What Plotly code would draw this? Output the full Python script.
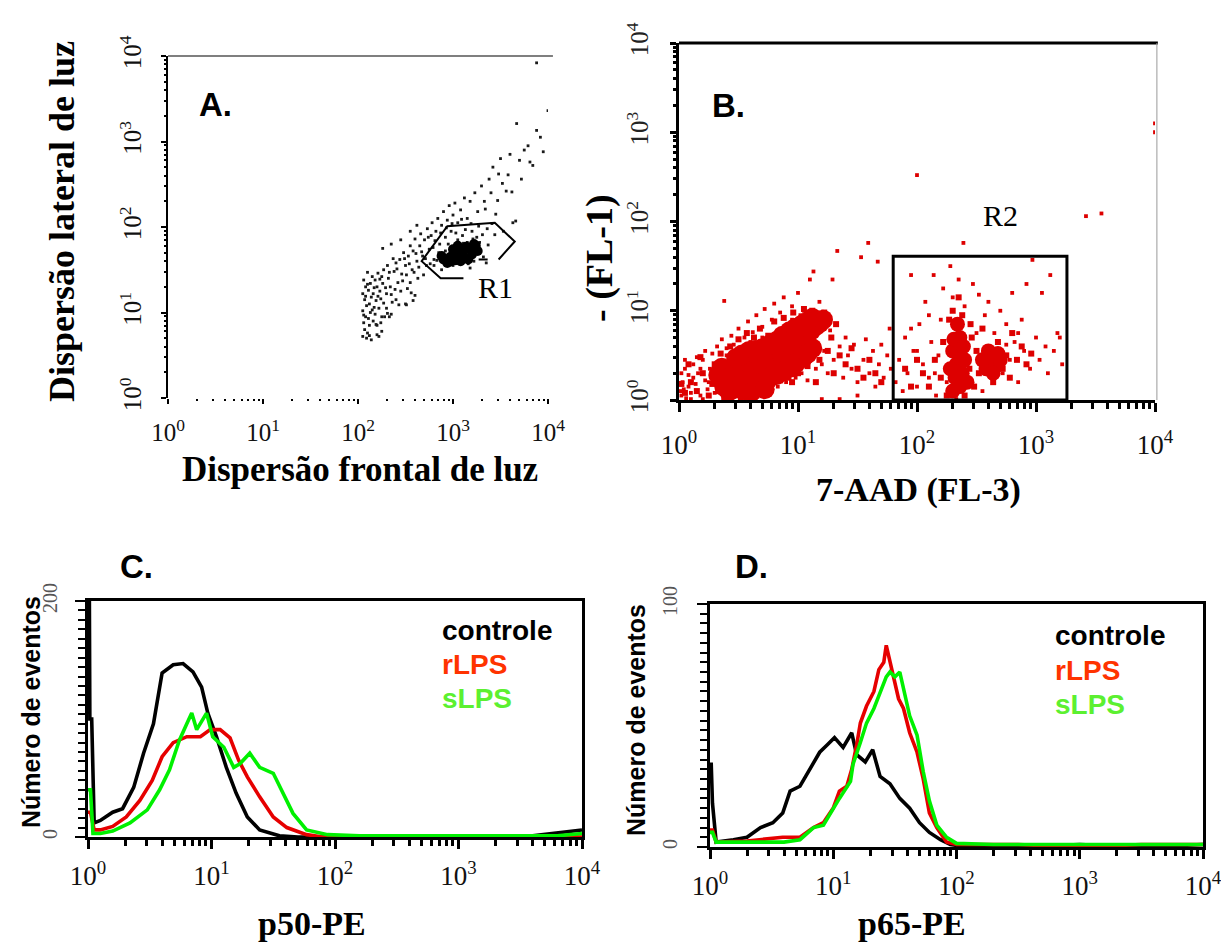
import plotly.graph_objects as go

W, H = 1221, 942

# ---------------- data (log10 units) ----------------
DECADES = [1, 10, 100, 1000, 10000]
DECADE_TEXT = ["10<sup>0</sup>", "10<sup>1</sup>", "10<sup>2</sup>", "10<sup>3</sup>", "10<sup>4</sup>"]

# Panel A: FSC / SSC dot plot (log10 of channel values)
A_CORE = [(2.90, 1.62), (2.97, 1.65), (3.04, 1.68), (3.10, 1.70), (3.17, 1.74), (3.24, 1.78),
          (3.02, 1.61), (3.12, 1.64), (3.00, 1.74), (3.14, 1.77), (3.20, 1.68), (3.07, 1.72),
          (2.94, 1.58), (3.08, 1.60), (2.88, 1.66), (3.26, 1.72), (3.16, 1.62), (3.05, 1.78),
          (2.98, 1.60), (3.22, 1.80)]
A_DOTS = [(2.05, 0.72), (2.07, 0.80), (2.06, 0.88), (2.08, 0.95), (2.05, 1.02), (2.09, 1.08),
          (2.07, 1.15), (2.05, 1.22), (2.08, 1.30), (2.06, 1.38), (2.10, 0.76), (2.12, 0.85),
          (2.11, 0.93), (2.13, 1.00), (2.12, 1.10), (2.14, 1.18), (2.11, 1.26), (2.13, 1.34),
          (2.15, 1.42), (2.10, 1.47), (2.16, 0.90), (2.18, 0.98), (2.17, 1.06), (2.19, 1.14),
          (2.16, 1.22), (2.20, 1.30), (2.18, 1.38), (2.21, 1.46), (2.22, 1.05), (2.24, 1.16),
          (2.23, 1.25), (2.26, 1.34), (2.25, 1.42), (2.27, 1.50), (2.20, 0.74), (2.28, 0.95),
          (2.30, 1.22), (2.32, 1.40), (2.31, 1.55), (2.34, 1.30), (2.36, 1.12), (2.38, 1.48),
          (2.40, 1.58), (2.42, 1.35), (2.44, 1.62), (2.46, 1.45), (2.48, 1.70), (2.50, 1.55),
          (2.52, 1.28), (2.53, 1.66), (2.55, 1.78), (2.57, 1.50), (2.58, 1.72), (2.60, 1.86),
          (2.62, 1.60), (2.63, 1.40), (2.65, 1.78), (2.66, 1.92), (2.68, 1.66), (2.70, 1.85),
          (2.72, 1.55), (2.73, 1.98), (2.75, 1.74), (2.77, 1.90), (2.78, 2.05), (2.80, 1.62),
          (2.82, 1.95), (2.84, 2.10), (2.86, 1.80), (2.88, 2.02), (2.90, 2.18), (2.92, 1.88),
          (2.94, 2.08), (2.96, 2.25), (2.98, 1.95), (3.00, 2.14), (3.02, 2.28), (3.05, 2.05),
          (3.08, 2.20), (3.10, 1.90), (3.12, 2.34), (3.15, 2.10), (3.18, 2.30), (3.20, 1.95),
          (3.23, 2.40), (3.26, 2.18), (3.28, 1.82), (3.30, 2.48), (3.33, 2.30), (3.36, 1.98),
          (3.38, 2.56), (3.40, 2.40), (3.42, 2.70), (3.45, 2.15), (3.48, 2.62), (3.50, 2.80),
          (3.53, 1.95), (3.56, 2.42), (3.60, 2.85), (3.63, 2.05), (3.67, 3.21), (3.70, 2.78),
          (3.75, 2.90), (3.79, 2.95), (3.84, 2.72), (3.88, 3.13), (3.88, 3.92), (4.00, 3.36),
          (3.66, 2.07), (2.80, 1.55), (2.85, 1.70), (2.88, 1.50), (2.95, 1.80), (3.00, 1.55),
          (3.05, 1.85), (3.10, 1.58), (3.15, 1.82), (3.22, 1.60), (3.28, 1.72), (3.32, 1.65),
          (3.25, 1.88), (2.92, 1.72), (3.18, 1.52), (3.35, 1.58), (2.20, 0.85), (2.25, 0.95),
          (2.30, 1.05), (2.35, 0.98), (2.40, 1.15), (2.45, 1.25), (2.50, 1.10), (2.55, 1.35),
          (2.60, 1.20), (2.25, 0.78), (2.14, 0.68), (2.09, 0.70), (2.22, 0.72), (2.26, 1.75),
          (2.35, 1.80), (2.45, 1.85), (2.55, 1.95), (2.62, 2.02), (2.33, 0.95), (2.51, 1.09),
          (2.58, 1.14), (2.06, 0.97), (2.08, 1.19), (2.10, 1.33), (2.12, 0.73), (2.15, 1.03),
          (2.17, 1.29), (2.19, 0.86), (2.21, 1.19), (2.23, 1.39), (2.24, 0.88), (2.27, 1.11),
          (2.29, 1.29), (2.31, 0.99), (2.33, 1.47), (2.35, 1.21), (2.37, 1.63), (2.39, 1.27),
          (2.41, 1.51), (2.43, 1.09), (2.47, 1.37), (2.49, 1.63), (2.51, 1.44), (2.54, 1.57),
          (2.56, 1.23), (2.59, 1.47), (2.61, 1.69), (2.64, 1.53), (2.67, 1.71), (2.69, 1.44),
          (2.71, 1.63), (2.74, 1.88), (2.76, 1.57), (2.79, 1.76), (2.81, 1.84), (2.83, 1.61),
          (2.87, 1.93), (2.89, 1.64), (2.93, 1.99), (2.97, 1.71), (2.99, 2.04), (3.03, 1.93),
          (3.06, 1.76), (3.09, 2.09), (3.11, 1.81), (3.13, 1.97), (3.16, 1.57), (3.19, 2.04),
          (3.21, 1.86), (3.24, 1.69), (3.27, 2.01), (3.31, 1.91), (3.34, 2.21), (3.37, 1.79),
          (3.41, 2.04), (3.44, 1.91), (3.47, 2.31), (3.52, 2.51), (3.58, 2.61), (3.62, 2.41),
          (3.72, 2.56), (3.81, 2.76), (3.92, 3.05), (3.95, 2.88)]
R1_GATE = [(3.11, 1.40), (2.87, 1.40), (2.67, 1.60), (2.94, 2.01), (3.44, 2.05), (3.65, 1.83), (3.48, 1.62)]
R1_DASH = [(3.27, 1.62), (3.40, 1.62)]

# Panel B: 7-AAD (FL-3) vs FL-1 dot plot (log10)
B_CORE = [(0.40, 0.24), (0.48, 0.32), (0.57, 0.36), (0.65, 0.39), (0.73, 0.43), (0.82, 0.49),
          (0.90, 0.56), (0.99, 0.64), (1.07, 0.73), (1.15, 0.83), (1.21, 0.90), (0.48, 0.13),
          (0.59, 0.17), (0.70, 0.21), (0.82, 0.28), (0.93, 0.36), (1.04, 0.47), (1.12, 0.58),
          (0.48, 0.47), (0.59, 0.55), (0.70, 0.58), (0.82, 0.66), (0.93, 0.77), (1.04, 0.85),
          (1.12, 0.92), (0.36, 0.36), (0.42, 0.10), (0.44, 0.28), (0.53, 0.34), (0.61, 0.38),
          (0.69, 0.41), (0.77, 0.46), (0.86, 0.52), (0.95, 0.60), (1.03, 0.68), (1.11, 0.78),
          (1.18, 0.86), (0.53, 0.15), (0.64, 0.19), (0.76, 0.25), (0.87, 0.32), (0.98, 0.41),
          (1.08, 0.52), (0.53, 0.51), (0.64, 0.56), (0.76, 0.62), (0.87, 0.72), (0.98, 0.81),
          (1.08, 0.88), (0.38, 0.15), (0.33, 0.28), (0.60, 0.08), (0.72, 0.12)]
B_CORE2 = [(2.30, 0.10), (2.32, 0.25), (2.33, 0.40), (2.35, 0.55), (2.36, 0.70), (2.34, 0.85),
           (2.38, 0.30), (2.40, 0.45), (2.28, 0.35), (2.42, 0.20), (2.30, 0.55), (2.58, 0.35),
           (2.62, 0.45), (2.66, 0.38), (2.60, 0.55), (2.70, 0.45), (2.55, 0.45), (2.36, 0.15),
           (2.31, 0.68), (2.39, 0.60), (2.64, 0.30), (2.68, 0.52)]
B_HALO = [(0.10, 0.20), (0.15, 0.10), (0.20, 0.30), (0.25, 0.05), (0.28, 0.18), (0.30, 0.40),
          (0.33, 0.10), (0.35, 0.52), (0.38, 0.02), (0.40, 0.38), (0.43, 0.60), (0.45, 0.08),
          (0.50, 0.68), (0.52, 0.02), (0.55, 0.25), (0.57, 0.75), (0.60, 0.12), (0.63, 0.70),
          (0.65, 0.05), (0.68, 0.80), (0.72, 0.12), (0.75, 0.72), (0.78, 0.18), (0.80, 0.88),
          (0.85, 0.22), (0.88, 0.92), (0.92, 0.25), (0.96, 0.98), (1.00, 0.30), (1.05, 1.02),
          (1.08, 0.38), (1.12, 1.00), (1.18, 0.45), (1.22, 0.98), (1.25, 0.55), (1.28, 0.70),
          (1.32, 0.85), (1.35, 0.50), (1.40, 0.40), (1.45, 0.58), (1.50, 0.35), (1.55, 0.25),
          (1.60, 0.45), (1.65, 0.30), (1.70, 0.20), (0.05, 0.08), (0.02, 0.18), (0.08, 0.40),
          (0.18, 0.48), (0.95, 0.20), (1.15, 0.20), (1.30, 0.30),
          (2.05, 0.30), (2.10, 0.15), (2.15, 0.45), (2.20, 0.25), (2.22, 0.65), (2.25, 0.05),
          (2.27, 0.90), (2.38, 0.95), (2.40, 0.05), (2.44, 0.35), (2.46, 0.70), (2.48, 0.15),
          (2.50, 0.55), (2.52, 0.30), (2.64, 0.20), (2.68, 0.65), (2.72, 0.35), (2.75, 0.50),
          (2.78, 0.25), (2.80, 0.75), (2.84, 0.45), (2.88, 0.60), (2.92, 0.40), (2.96, 0.52),
          (1.90, 0.35), (1.95, 0.15), (2.00, 0.45), (2.45, 0.85), (2.55, 0.80), (2.30, 1.00),
          (2.35, 1.15)]
B_DOTS = [(0.02, 0.05), (0.03, 0.20), (0.05, 0.35), (0.04, 0.12), (0.08, 0.28), (0.10, 0.08),
          (0.12, 0.40), (0.14, 0.18), (0.16, 0.30), (0.18, 0.05), (0.20, 0.45), (0.22, 0.22),
          (0.24, 0.12), (0.26, 0.35), (0.28, 0.52), (0.30, 0.08), (0.32, 0.60), (0.34, 0.28),
          (0.36, 0.68), (0.38, 1.11), (0.40, 0.50), (0.42, 0.05), (0.44, 0.72), (0.46, 0.62),
          (0.50, 0.80), (0.52, 0.05), (0.55, 0.70), (0.58, 0.88), (0.60, 0.08), (0.62, 0.76),
          (0.65, 0.95), (0.68, 0.12), (0.70, 0.82), (0.72, 1.02), (0.75, 0.08), (0.78, 0.90),
          (0.80, 1.08), (0.83, 0.15), (0.85, 0.98), (0.88, 1.15), (0.90, 0.20), (0.95, 1.05),
          (0.98, 0.25), (1.00, 1.20), (1.03, 0.30), (1.05, 1.00), (1.08, 0.22), (1.10, 1.35),
          (1.13, 1.44), (1.15, 0.35), (1.18, 1.10), (1.20, 0.40), (1.22, 0.55), (1.25, 0.30),
          (1.27, 0.78), (1.29, 1.35), (1.30, 0.45), (1.33, 1.67), (1.35, 0.60), (1.38, 0.25),
          (1.40, 0.70), (1.42, 0.50), (1.45, 0.35), (1.47, 0.62), (1.50, 0.20), (1.53, 1.60),
          (1.55, 0.45), (1.57, 0.68), (1.59, 1.76), (1.60, 0.30), (1.63, 0.55), (1.65, 0.15),
          (1.68, 0.40), (1.70, 0.62), (1.72, 0.25), (1.75, 0.50), (1.77, 0.80), (1.78, 0.35),
          (1.20, 0.01), (1.35, 0.01), (0.10, 0.01), (0.20, 0.01), (0.06, 0.02), (0.30, 0.40),
          (0.35, 0.15), (0.45, 0.25), (0.55, 0.10), (0.62, 0.25), (0.75, 0.25), (0.85, 0.35),
          (0.92, 0.30), (1.00, 0.40), (1.10, 0.55), (1.12, 0.70), (1.18, 0.82), (1.25, 0.95),
          (0.60, 0.65), (0.50, 0.55), (0.40, 0.58), (0.70, 0.70), (0.88, 0.78), (0.95, 0.90),
          (1.02, 0.95), (0.05, 0.45), (0.08, 0.15), (0.12, 0.25), (0.15, 0.48), (0.18, 0.35),
          (0.22, 0.55), (0.25, 0.20), (0.28, 0.30), (0.02, 0.30), (0.01, 0.10),
          (1.82, 0.20), (1.85, 0.45), (1.88, 0.10), (1.90, 0.70), (1.92, 0.30), (1.95, 1.40),
          (1.97, 0.55), (2.00, 0.15), (2.02, 0.85), (2.05, 0.40), (2.07, 1.10), (2.10, 0.25),
          (2.12, 0.65), (2.14, 1.40), (2.16, 0.05), (2.18, 0.50), (2.20, 0.90), (2.22, 1.25),
          (2.25, 0.20), (2.28, 1.50), (2.30, 1.15), (2.33, 0.01), (2.40, 1.05), (2.42, 0.60),
          (2.45, 0.20), (2.47, 1.30), (2.50, 0.75), (2.52, 1.18), (2.55, 0.10), (2.57, 0.95),
          (2.60, 1.10), (2.62, 0.25), (2.65, 0.75), (2.68, 0.55), (2.70, 1.00), (2.72, 0.30),
          (2.75, 0.85), (2.78, 0.45), (2.80, 1.20), (2.82, 0.65), (2.85, 0.20), (2.88, 0.90),
          (2.90, 0.55), (2.92, 1.30), (2.95, 0.35), (2.97, 1.57), (3.00, 0.70), (3.03, 0.45),
          (3.05, 1.20), (3.08, 0.60), (3.10, 0.30), (3.12, 1.40), (3.15, 0.55), (3.18, 0.75),
          (3.20, 0.70), (3.22, 0.40), (2.00, 0.55), (1.95, 0.80), (2.10, 0.95), (2.15, 0.30),
          (2.55, 0.50), (2.75, 0.62), (2.85, 0.75), (2.35, 1.35), (2.00, 2.52), (3.42, 2.06),
          (3.55, 2.09), (4.00, 3.10), (4.00, 3.00), (2.39, 1.76), (1.67, 1.55), (1.50, 0.05)]
R2_GATE_LOGX = [1.80, 3.26]
R2_GATE_LOGY = [0.0, 1.61]

# Panel C: p50-PE histograms (log10 fluorescence, counts)
C_CTRL_X = [0.0, 0.01, 0.015, 0.03, 0.05, 0.10, 0.20, 0.28, 0.37, 0.45, 0.53, 0.60, 0.69, 0.77,
            0.85, 0.92, 0.97, 1.04, 1.12, 1.20, 1.29, 1.39, 1.55, 1.70, 2.0, 2.5, 3.0, 3.6, 4.0]
C_CTRL_Y = [230, 230, 100, 100, 12, 14, 21, 24, 42, 71, 96, 139, 146, 147,
            140, 127, 105, 85, 59, 37, 17, 6, 1, 0, 0, 1, 0, 1, 6]
C_RLPS_X = [0.0, 0.02, 0.05, 0.10, 0.20, 0.31, 0.42, 0.52, 0.60, 0.69, 0.80, 0.91, 0.99, 1.07,
            1.15, 1.22, 1.29, 1.39, 1.50, 1.61, 1.77, 1.90, 2.5, 3.0, 3.5, 4.0]
C_RLPS_Y = [21, 21, 6, 6, 9, 17, 31, 48, 68, 80, 85, 85, 91, 91,
            84, 65, 51, 34, 17, 8, 2, 0, 1, 0, 1, 0]
C_SLPS_X = [0.0, 0.02, 0.04, 0.10, 0.20, 0.34, 0.48, 0.58, 0.66, 0.74, 0.80, 0.84, 0.88, 0.96,
            1.01, 1.10, 1.18, 1.23, 1.31, 1.39, 1.50, 1.58, 1.66, 1.77, 1.94, 2.2, 2.6, 3.0,
            3.4, 3.8, 4.0]
C_SLPS_Y = [40, 40, 3, 3, 5, 12, 23, 40, 57, 82, 96, 105, 91, 105,
            85, 76, 59, 62, 71, 59, 54, 37, 20, 6, 2, 1, 1, 1, 1, 1, 3]

# Panel D: p65-PE histograms
D_CTRL_X = [0.0, 0.01, 0.02, 0.05, 0.19, 0.30, 0.41, 0.51, 0.59, 0.65, 0.73, 0.81, 0.89, 0.95,
            1.01, 1.08, 1.15, 1.19, 1.26, 1.32, 1.38, 1.46, 1.54, 1.62, 1.70, 1.78, 1.87, 1.95,
            2.1, 2.5, 3.0, 3.5, 4.0]
D_CTRL_Y = [34, 34, 18, 2, 3, 4, 8, 10, 14, 23, 25, 32, 39, 42,
            45, 41, 47, 38, 35, 40, 29, 26, 20, 16, 10, 6, 3, 1,
            0, 0, 1, 0, 1]
D_RLPS_X = [0.0, 0.02, 0.05, 0.30, 0.59, 0.73, 0.84, 0.92, 1.00, 1.05, 1.11, 1.15, 1.19, 1.22,
            1.27, 1.33, 1.37, 1.41, 1.43, 1.46, 1.49, 1.53, 1.57, 1.62, 1.68, 1.73, 1.78, 1.84,
            1.92, 2.0, 2.5, 3.0, 3.5, 4.0]
D_RLPS_Y = [7, 7, 2, 2.5, 4, 4, 8, 10, 16, 23, 25, 32, 42, 51,
            58, 64, 73, 76, 83, 76, 70, 61, 57, 47, 39, 28, 14, 8,
            2, 1, 1, 0, 1, 1]
D_SLPS_X = [0.0, 0.02, 0.05, 0.30, 0.60, 0.73, 0.84, 0.92, 1.00, 1.05, 1.14, 1.16, 1.22, 1.27,
            1.33, 1.38, 1.43, 1.46, 1.50, 1.54, 1.58, 1.62, 1.68, 1.73, 1.78, 1.84, 1.92, 2.0,
            2.3, 2.6, 3.0, 3.5, 4.0]
D_SLPS_Y = [6, 6, 2, 2, 2, 3, 8, 9, 16, 20, 27, 34, 43, 51,
            57, 64, 70, 72, 70, 72, 63, 54, 46, 31, 19, 9, 4, 1.5,
            1, 1, 1, 1, 1]

SERIES_NAMES = ["controle", "rLPS", "sLPS"]
LINE_COLORS = ["#000000", "#E60000", "#00F000"]
TEXT_COLORS = ["#000000", "#FF3300", "#5CF030"]


def lin(v):
    return [10 ** t for t in v]


def unzip(pairs):
    return lin([p[0] for p in pairs]), lin([p[1] for p in pairs])


fig = go.Figure()

# ---- Panel A ----
ax_, ay_ = unzip(A_DOTS)
fig.add_trace(go.Scatter(x=ax_, y=ay_, mode="markers", xaxis="x", yaxis="y",
                         marker=dict(size=2.8, color="#1a1a1a", symbol="square"), showlegend=False))
cx_, cy_ = unzip(A_CORE)
fig.add_trace(go.Scatter(x=cx_, y=cy_, mode="markers", xaxis="x", yaxis="y",
                         marker=dict(size=10, color="#000000"), showlegend=False))
gx, gy = unzip(R1_GATE)
fig.add_trace(go.Scatter(x=gx, y=gy, mode="lines", xaxis="x", yaxis="y",
                         line=dict(color="black", width=2), showlegend=False))
dx, dy = unzip(R1_DASH)
fig.add_trace(go.Scatter(x=dx, y=dy, mode="lines", xaxis="x", yaxis="y",
                         line=dict(color="black", width=2, dash="dash"), showlegend=False))

# ---- Panel B ----
bx, by = unzip(B_DOTS)
fig.add_trace(go.Scatter(x=bx, y=by, mode="markers", xaxis="x2", yaxis="y2",
                         marker=dict(size=3.8, color="#DD0000", symbol="square"), showlegend=False))
hx, hy = unzip(B_HALO)
fig.add_trace(go.Scatter(x=hx, y=hy, mode="markers", xaxis="x2", yaxis="y2",
                         marker=dict(size=6, color="#DD0000", symbol="square"), showlegend=False))
b1x, b1y = unzip(B_CORE)
fig.add_trace(go.Scatter(x=b1x, y=b1y, mode="markers", xaxis="x2", yaxis="y2",
                         marker=dict(size=20, color="#DD0000"), showlegend=False))
b2x, b2y = unzip(B_CORE2)
fig.add_trace(go.Scatter(x=b2x, y=b2y, mode="markers", xaxis="x2", yaxis="y2",
                         marker=dict(size=15, color="#DD0000"), showlegend=False))
rx0, rx1 = lin(R2_GATE_LOGX)
ry0, ry1 = lin(R2_GATE_LOGY)
fig.add_trace(go.Scatter(x=[rx0, rx1, rx1, rx0, rx0], y=[ry0, ry0, ry1, ry1, ry0], mode="lines",
                         xaxis="x2", yaxis="y2", line=dict(color="black", width=3), showlegend=False))

# ---- Panels C & D ----
for xs, ys, col in [(C_CTRL_X, C_CTRL_Y, LINE_COLORS[0]), (C_RLPS_X, C_RLPS_Y, LINE_COLORS[1]),
                    (C_SLPS_X, C_SLPS_Y, LINE_COLORS[2])]:
    fig.add_trace(go.Scatter(x=lin(xs), y=ys, mode="lines", xaxis="x3", yaxis="y3",
                             line=dict(color=col, width=3.6), showlegend=False))
for xs, ys, col in [(D_CTRL_X, D_CTRL_Y, LINE_COLORS[0]), (D_RLPS_X, D_RLPS_Y, LINE_COLORS[1]),
                    (D_SLPS_X, D_SLPS_Y, LINE_COLORS[2])]:
    fig.add_trace(go.Scatter(x=lin(xs), y=ys, mode="lines", xaxis="x4", yaxis="y4",
                             line=dict(color=col, width=3.6), showlegend=False))

SERIF = "Liberation Serif"
SANS = "Liberation Sans"


def dom_x(a, b):
    return [a / W, b / W]


def dom_y(top, bottom):
    return [1 - bottom / H, 1 - top / H]


def log_axis(domain, anchor, lw, show_line, ticklen, standoff, font_size, color="#111", angle=0):
    return dict(domain=domain, anchor=anchor, type="log", range=[0, 4], automargin=False,
                ticklabeloverflow="allow",
                tickmode="array", tickvals=DECADES, ticktext=DECADE_TEXT,
                showline=show_line, linecolor="black", linewidth=lw,
                ticks="outside", ticklen=ticklen, tickwidth=lw if lw > 1 else 1.5, tickcolor="black",
                tickangle=angle,
                minor=dict(ticks="outside", dtick="D1", ticklen=max(2, ticklen - 3),
                           tickwidth=lw if lw > 1 else 1.5, tickcolor="black", showgrid=False),
                showgrid=False, zeroline=False, ticklabelstandoff=standoff,
                tickfont=dict(family=SERIF, size=font_size, color=color))


def count_axis(domain, anchor, top, minor_step, standoff):
    return dict(domain=domain, anchor=anchor, range=[0, top], automargin=False, tickmode="array",
                ticklabeloverflow="allow",
                tickvals=[0, top], ticktext=["0", str(top)], tickangle=-90,
                showline=True, linecolor="black", linewidth=2.5, mirror=True,
                ticks="outside", ticklen=10, tickwidth=2, tickcolor="black",
                minor=dict(ticks="outside", dtick=minor_step, ticklen=7, tickwidth=2,
                           tickcolor="black", showgrid=False),
                showgrid=False, zeroline=False, ticklabelstandoff=standoff,
                tickfont=dict(family=SERIF, size=20, color="#555"))


layout = dict(
    width=W, height=H, margin=dict(l=0, r=0, t=0, b=0, autoexpand=False),
    paper_bgcolor="white", plot_bgcolor="white", showlegend=False,
    xaxis=log_axis(dom_x(168, 548), "y", 1.5, False, 5, 7, 25),
    yaxis=log_axis(dom_y(56, 398), "x", 1.5, True, 5, 10, 25, angle=-90),
    xaxis2=log_axis(dom_x(679, 1155), "y2", 2.5, True, 9, 10, 27),
    yaxis2=log_axis(dom_y(43, 400), "x2", 2.5, True, 6, 12, 25, color="#222", angle=-90),
    xaxis3=log_axis(dom_x(88, 582), "y3", 2.5, True, 9, 4, 27),
    yaxis3=count_axis(dom_y(601, 837), "x3", 200, 8, 10),
    xaxis4=log_axis(dom_x(710, 1203), "y4", 2.5, True, 9, 4, 27),
    yaxis4=count_axis(dom_y(604, 847), "x4", 100, 4, 12),
)
fig.update_layout(**layout)
fig.update_xaxes(mirror=True, selector=dict(anchor="y3"))
fig.update_xaxes(mirror=True, selector=dict(anchor="y4"))

shapes = [
    dict(type="line", xref="x domain", yref="y domain", x0=0, x1=1.013, y0=1, y1=1,
         line=dict(color="black", width=1.2)),
    dict(type="line", xref="x2 domain", yref="y2 domain", x0=0, x1=1.006, y0=1, y1=1,
         line=dict(color="black", width=3)),
    dict(type="line", xref="x2 domain", yref="y2 domain", x0=1.004, x1=1.004, y0=0, y1=1,
         line=dict(color="#999", width=1)),
]
fig.update_layout(shapes=shapes)


def ann(text, x, y, size, family, color="black", bold=True, angle=0):
    t = f"<b>{text}</b>" if bold else text
    return dict(text=t, x=x / W, y=1 - y / H, xref="paper", yref="paper", showarrow=False,
                textangle=angle, xanchor="center", yanchor="middle",
                font=dict(family=family, size=size, color=color))


annotations = [
    ann("A.", 215, 105, 33, SANS),
    ann("B.", 728, 106, 33, SANS),
    ann("C.", 136, 566, 33, SANS),
    ann("D.", 751, 566, 33, SANS),
    ann("Dispersão lateral de luz", 62, 222, 36, SERIF, angle=-90),
    ann("Dispersão frontal de luz", 360, 469, 35, SERIF),
    ann("- (FL-1)", 600, 258, 38, SERIF, angle=-90),
    ann("7-AAD (FL-3)", 918, 490, 34, SERIF),
    ann("p50-PE", 312, 923, 34, SERIF),
    ann("p65-PE", 912, 923, 34, SERIF),
    ann("Número de eventos", 31, 712, 25, SANS, angle=-90),
    ann("Número de eventos", 636, 720, 25, SANS, angle=-90),
    ann("R1", 495, 287, 30, SERIF, bold=False),
    ann("R2", 1000, 215, 30, SERIF, bold=False),
]
for (x0, ys) in [(440, [630, 664, 698]), (1053, [635, 670, 704])]:
    for name, col, yy in zip(SERIES_NAMES, TEXT_COLORS, ys):
        a = ann(name, x0, yy, 28, SANS, color=col)
        a["xanchor"] = "left"
        annotations.append(a)
fig.update_layout(annotations=annotations)

fig.write_html("out.html")
